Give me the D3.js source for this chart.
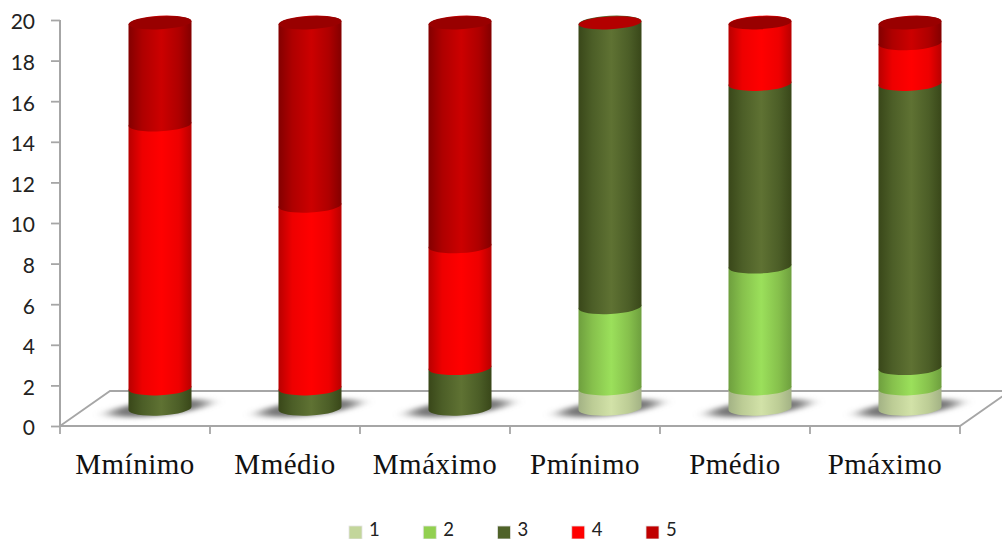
<!DOCTYPE html>
<html>
<head>
<meta charset="utf-8">
<script src="https://cdn.jsdelivr.net/npm/d3@7"></script>
<style>
html, body { margin: 0; padding: 0; background: #fff; }
svg { display: block; }
</style>
</head>
<body>
<svg id="chart" width="1002" height="539"></svg>
<script>
const categories = ["Mmínimo", "Mmédio", "Mmáximo", "Pmínimo", "Pmédio", "Pmáximo"];
const seriesNames = ["1", "2", "3", "4", "5"];
const series1 = [0, 0, 0, 1, 1, 1];
const series2 = [0, 0, 0, 4, 6, 1];
const series3 = [1, 1, 2, 14, 9, 14];
const series4 = [13, 9, 6, 0, 3, 2];
const series5 = [5, 9, 11, 0, 0, 1];
const yTicks = [0, 2, 4, 6, 8, 10, 12, 14, 16, 18, 20];

const allSeries = [series1, series2, series3, series4, series5];
const swatches = ["#c3d69b", "#92d050", "#4f6228", "#ff0000", "#c00000"];
const shades = [
  ["#a3b285", "#bccc95", "#d2e2a8", "#bccc95", "#a3b285"],
  ["#6e9f3e", "#86c04c", "#9be05b", "#86c04c", "#6e9f3e"],
  ["#394719", "#4c5e27", "#5f7233", "#4c5e27", "#394719"],
  ["#b80000", "#ee0000", "#ff0000", "#ee0000", "#b80000"],
  ["#830000", "#ae0000", "#cc0000", "#ae0000", "#830000"]
];

const depthX = 50, depthY = 35;
const radiusX = 31.5, radiusY = 7, tilt = 1.7, tiltAngle = -3;
const ruleColor = "#a6a6a6";

const svg = d3.select("#chart");
const defs = svg.append("defs");

// Lighting across the cylinder body, one gradient per series
shades.forEach((stops, i) => {
  const g = defs.append("linearGradient").attr("id", `body${i}`);
  [0, 0.22, 0.52, 0.8, 1].forEach((o, k) => {
    g.append("stop").attr("offset", o).attr("stop-color", stops[k]);
  });
});
defs.append("filter").attr("id", "soft")
  .attr("x", "-40%").attr("y", "-150%").attr("width", "180%").attr("height", "400%")
  .append("feGaussianBlur").attr("stdDeviation", "8 2.2");

const x = d3.scaleBand().domain(categories).range([60, 960]);
const y = d3.scaleLinear().domain([0, 20]).range([426, 20]);

// Floor of the 3-D plot
const floor = svg.append("g").attr("fill", "none").attr("stroke", ruleColor).attr("stroke-width", 1.8);
floor.append("path").attr("d", d3.line()([
  [60, y(0)], [60 + depthX, y(0) - depthY], [1002, y(0) - depthY]
]));
floor.append("path").attr("d", d3.line()([
  [960 + depthX, y(0) - depthY], [960, y(0)], [60, y(0)]
]));

// Value axis
const yAxis = svg.append("g").attr("transform", "translate(60,0)")
  .call(d3.axisLeft(y).tickValues(yTicks).tickSize(9).tickPadding(16));
yAxis.select(".domain").attr("stroke", ruleColor).attr("stroke-width", 2).attr("d", `M0,${y(20)}V${y(0)}`);
yAxis.selectAll("line").attr("stroke", ruleColor).attr("stroke-width", 1.8);
yAxis.selectAll("text").attr("font-family", "Lato, sans-serif").attr("font-size", 21)
  .attr("fill", "#222").attr("dy", "0.42em");

// Category axis
const xAxis = svg.append("g").attr("transform", `translate(0,${y(0)})`)
  .call(d3.axisBottom(x).tickSize(0).tickPadding(27));
xAxis.select(".domain").remove();
xAxis.selectAll("text").attr("font-family", "'Liberation Serif', serif").attr("font-size", 29)
  .attr("letter-spacing", 0.5).attr("fill", "#111");
svg.append("g").attr("stroke", ruleColor).attr("stroke-width", 1.8)
  .selectAll("line").data(d3.range(categories.length + 1)).join("line")
  .attr("x1", i => 60 + i * x.bandwidth()).attr("x2", i => 60 + i * x.bandwidth())
  .attr("y1", y(0)).attr("y2", y(0) + 8);

const centerX = c => x(c) + x.bandwidth() / 2 + depthX / 2;
// Level of the ellipse centre for a stacked value
const level = v => y(v) - depthY / 2;
const arc = (tx, ty, sweep) => `A${radiusX},${radiusY} ${tiltAngle} 0 ${sweep} ${tx},${ty}`;

const bars = svg.selectAll("g.bar").data(categories).join("g").attr("class", "bar");

bars.each(function (c, ci) {
  const g = d3.select(this);
  const cx = centerX(c);

  // Ground shadow cast beside the foot of the column
  g.append("ellipse")
    .attr("cx", cx - 1).attr("cy", level(0) - 0.5)
    .attr("rx", radiusX + 18).attr("ry", 7.5)
    .attr("transform", `rotate(-6 ${cx} ${level(0)})`)
    .attr("fill", "#757575").attr("filter", "url(#soft)");

  let base = 0;
  allSeries.forEach((values, si) => {
    const v = values[ci];
    if (!v) return;
    const y0 = level(base), y1 = level(base + v);
    const d = `M${cx - radiusX},${y0 + tilt}` +
      arc(cx + radiusX, y0 - tilt, 0) +
      `L${cx + radiusX},${y1 - tilt}` +
      arc(cx - radiusX, y1 + tilt, 0) + "Z";
    g.append("path").attr("d", d).attr("fill", `url(#body${si})`);
    base += v;
  });

  // Cap of the column
  const yc = level(base);
  const bareTop = series4[ci] === 0 && series5[ci] === 0;
  g.append("ellipse")
    .attr("cx", cx).attr("cy", yc)
    .attr("rx", radiusX).attr("ry", radiusY - 0.6)
    .attr("transform", `rotate(${tiltAngle} ${cx} ${yc})`)
    .attr("fill", bareTop ? "#b30000" : "#990000");
});

// Legend
const legendX = d3.scalePoint().domain(seriesNames).range([349, 646]);
const legend = svg.append("g").selectAll("g").data(seriesNames).join("g")
  .attr("transform", d => `translate(${legendX(d)},526)`);
legend.append("rect").attr("width", 13).attr("height", 13)
  .attr("fill", (d, i) => swatches[i]).attr("stroke", "#e4e4e4").attr("stroke-width", 0.8);
legend.append("text").text(d => d).attr("x", 20).attr("y", 10.3)
  .attr("font-family", "Lato, sans-serif").attr("font-size", 18.5).attr("fill", "#222");
</script>
</body>
</html>
